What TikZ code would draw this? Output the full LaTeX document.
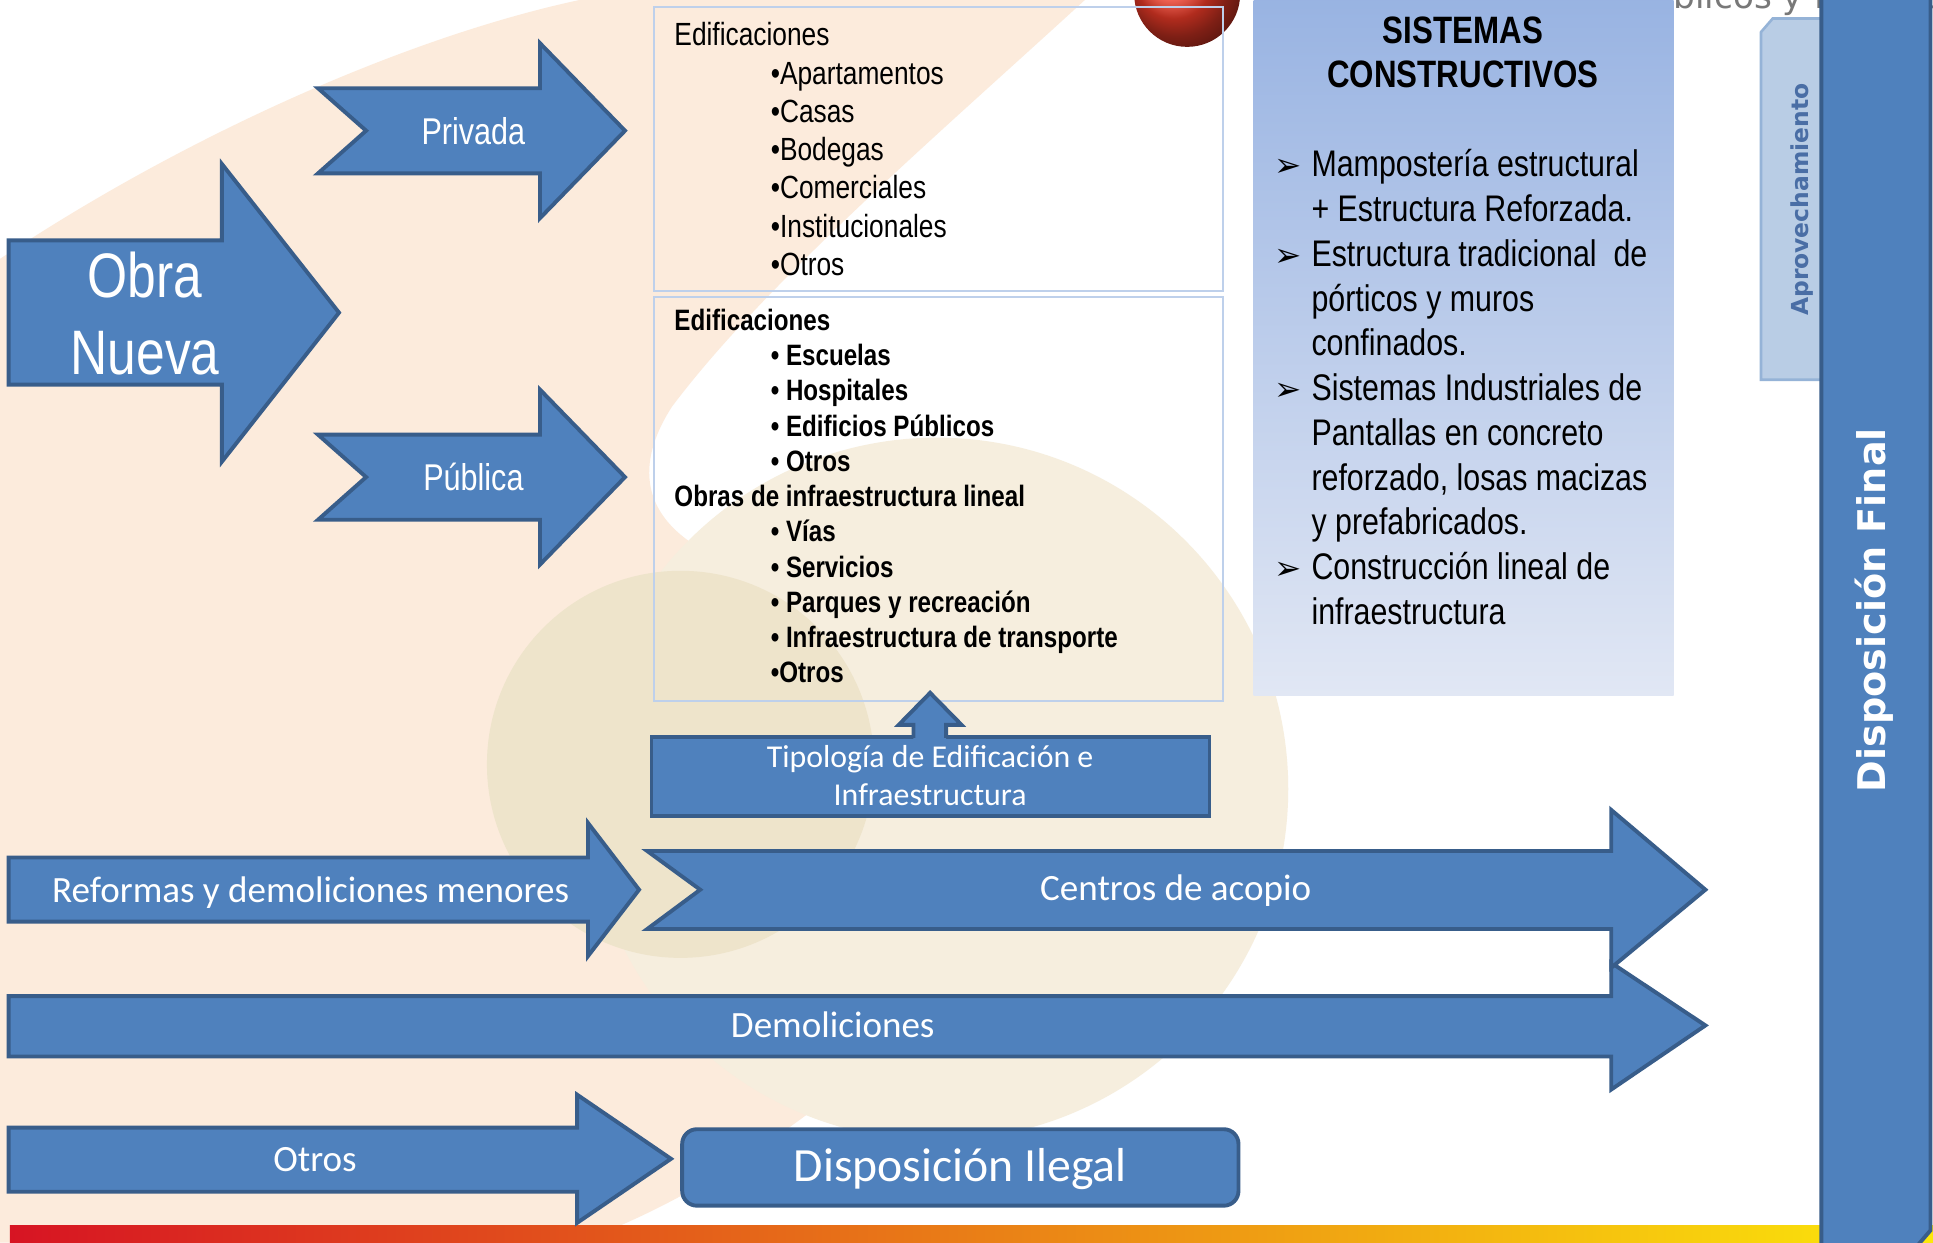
\documentclass[tikz,border=0pt]{standalone}
\usepackage{fontspec}
\setmainfont{Liberation Sans}
\newfontfamily\narrowfont{Liberation Sans}[FakeStretch=0.82]
\newfontfamily\calfont{Carlito}
\newfontfamily\dejafont{DejaVu Sans}
\usepackage{tikz}

\definecolor{arrowfill}{RGB}{79,129,189}
\definecolor{arrowline}{RGB}{56,93,138}
\definecolor{boxline}{RGB}{190,208,235}
\definecolor{peach}{RGB}{252,235,220}
\definecolor{circbeige}{RGB}{246,238,222}
\definecolor{innerbeige}{RGB}{238,228,203}
\definecolor{ballred}{RGB}{252,62,42}
\definecolor{graytext}{RGB}{120,120,120}
\definecolor{systop}{RGB}{152,179,226}
\definecolor{sysmid}{RGB}{183,201,235}
\definecolor{sysbot}{RGB}{225,231,244}
\definecolor{tabfill}{RGB}{185,205,229}
\definecolor{tabline}{RGB}{149,179,215}
\definecolor{tabtext}{RGB}{74,110,165}
\definecolor{stripered}{RGB}{215,20,35}
\definecolor{stripeorange}{RGB}{236,130,20}
\definecolor{stripeyellow}{RGB}{252,232,10}

\begin{document}
\begin{tikzpicture}[x=0.01cm, y=-0.01cm,
    blockarrow/.style={draw=arrowline, fill=arrowfill, line width=0.9pt, line join=miter},
    narrowlabel/.style={text=white, inner sep=0pt, anchor=base,
                        font=\narrowfont\fontsize{8.6pt}{10pt}\selectfont},
    callabel/.style={text=white, inner sep=0pt, anchor=base,
                     font=\calfont\fontsize{8.55pt}{10pt}\selectfont},
    listbox/.style={draw=boxline, line width=0.5pt, inner sep=0pt, anchor=north west},
    privlist/.style={inner sep=0pt, anchor=base west, font=\narrowfont\fontsize{7.4pt}{9pt}\selectfont},
    publist/.style={inner sep=0pt, anchor=base west, font=\narrowfont\bfseries\fontsize{6.8pt}{8pt}\selectfont},
    systitle/.style={inner sep=0pt, anchor=base, font=\narrowfont\bfseries\fontsize{8.8pt}{10pt}\selectfont},
    syslist/.style={inner sep=0pt, anchor=base west, font=\narrowfont\fontsize{8.54pt}{10pt}\selectfont},
    sysbullet/.style={inner sep=0pt, anchor=base west, font=\dejafont\fontsize{7.5pt}{9pt}\selectfont}]

    % fondo
    \useasboundingbox[fill=white] (0,0) rectangle (1568,1008);
    \fill[peach] (0,210) .. controls (150,110) and (330,30) .. (470,0) -- (880,0)
        .. controls (760,110) and (620,230) .. (545,330)
        .. controls (500,400) and (540,450) .. (640,470) -- (660,900)
        .. controls (560,975) and (500,995) .. (470,1008) -- (0,1008) -- cycle;
    \fill[circbeige] (760,640) circle (285);
    \fill[innerbeige] (552,620) circle (157);
    \shade[ball color=ballred] (963,-5) circle (43);
    \node[anchor=base west, inner sep=0pt, text=graytext,
          font=\dejafont\fontsize{7.9pt}{9pt}\selectfont] (cortado) at (1323,7) {Públicos y Privados};

    % cajas de tipologias
    \node[listbox, minimum width=4.613cm, minimum height=2.305cm] (privbox) at (529.7,4.5) {};
    \node[listbox, minimum width=4.613cm, minimum height=3.274cm] (pubbox) at (529.7,240) {};
    \node[privlist] (privhead) at (546.4,37.2) {Edificaciones};
    \foreach \txt [count=\i] in {Apartamentos,Casas,Bodegas,Comerciales,Institucionales,Otros}
        \node[privlist] (priv\i) at (624.6,{37.2+31.05*\i}) {•\txt};
    \foreach \xx/\txt [count=\i from 0] in {546.4/Edificaciones, 624.6/• Escuelas, 624.6/• Hospitales,
            624.6/• Edificios Públicos, 624.6/• Otros, 546.4/Obras de infraestructura lineal,
            624.6/• Vías, 624.6/• Servicios, 624.6/• Parques y recreación,
            624.6/• Infraestructura de transporte, 624.6/•Otros}
        \node[publist] (pub\i) at (\xx,{268+28.6*\i}) {\txt};

    % sistemas constructivos
    \shade[top color=systop, middle color=sysmid, bottom color=sysbot] (1017,-5) rectangle (1357.5,564);
    \node[systitle] (sys1) at (1186.7,35.4) {SISTEMAS};
    \node[systitle] (sys2) at (1186.7,70.8) {CONSTRUCTIVOS};
    \foreach \txt [count=\i from 0] in {Mampostería estructural, + Estructura Reforzada.,
            Estructura tradicional\ \ de, pórticos y muros, confinados., Sistemas Industriales de,
            Pantallas en concreto, {reforzado, losas macizas}, y prefabricados.,
            Construcción lineal de, infraestructura}
        \node[syslist] (sysl\i) at (1063.2,{143.4+36.3*\i}) {\txt};
    \foreach \i in {0,2,5,9}
        \node[sysbullet] (bul\i) at (1033,{143.4+36.3*\i}) {➢};

    % franja inferior, pestana y barra final
    \shade[left color=stripered, middle color=stripeorange, right color=stripeyellow]
        (8,994) rectangle (1568,1012);
    \draw[fill=tabfill, draw=tabline, line width=0.6pt]
        (1428.5,308) -- (1428.5,26) -- (1438,15) -- (1482,15) -- (1482,308) -- cycle;
    \node[rotate=90, text=tabtext, inner sep=0pt,
          font=\dejafont\bfseries\fontsize{5.4pt}{6pt}\selectfont] (aprov) at (1462,162) {Aprovechamiento};
    \draw[blockarrow] (1477.5,-10) -- (1566,-10) -- (1566,998) -- (1554,1012) -- (1477.5,1012) -- cycle;
    \node[rotate=90, text=white, inner sep=0pt,
          font=\dejafont\bfseries\fontsize{8.8pt}{10pt}\selectfont] (final) at (1520,495) {Disposición Final};

    % obra nueva
    \draw[blockarrow] (7,195) -- (180,195) -- (180,133) -- (275,253.6) -- (180,374.5) -- (180,312)
        -- (7,312) -- cycle;
    \node[narrowlabel, font=\narrowfont\fontsize{14.5pt}{17pt}\selectfont] (obra) at (117.7,241.5) {Obra};
    \node[narrowlabel, font=\narrowfont\fontsize{14.5pt}{17pt}\selectfont] (nueva) at (117.7,303.4) {Nueva};
    \foreach \dy in {0,281}
        \draw[blockarrow, shift={(0,\dy)}] (258,71.6) -- (438,71.6) -- (438,35) -- (507,106)
            -- (438,177) -- (438,140.6) -- (258,140.6) -- (297,106) -- cycle;
    \node[narrowlabel] (privada) at (384,116.8) {Privada};
    \node[narrowlabel] (publica) at (384,397.8) {Pública};

    % tipologia
    \node[blockarrow, rectangle, inner sep=0pt, minimum width=4.524cm, minimum height=0.644cm]
        (tipo) at (754.8,629.8) {};
    \fill[arrowfill] (741,601) -- (741,588) -- (729,588) -- (754.5,562) -- (780,588) -- (767.5,588)
        -- (767.5,601) -- cycle;
    \draw[arrowline, line width=0.9pt, line join=miter] (741,598.5) -- (741,588) -- (729,588)
        -- (754.5,562) -- (780,588) -- (767.5,588) -- (767.5,598.5);
    \node[callabel, font=\calfont\fontsize{7.34pt}{9pt}\selectfont] (tipo1) at (754.5,622.4) {Tipología de Edificación e};
    \node[callabel, font=\calfont\fontsize{7.34pt}{9pt}\selectfont] (tipo2) at (754.5,653) {Infraestructura};

    % flujos inferiores
    \draw[blockarrow] (7,695.6) -- (477,695.6) -- (477,667.6) -- (518.4,721.7) -- (477,775.5)
        -- (477,747.6) -- (7,747.6) -- cycle;
    \draw[blockarrow] (7,808) -- (1307,808) -- (1307,781) -- (1383.4,831.8) -- (1307,883.8)
        -- (1307,857) -- (7,857) -- cycle;
    \draw[blockarrow] (525,690.3) -- (1307,690.3) -- (1307,657) -- (1383.4,721.7) -- (1307,785)
        -- (1307,753.6) -- (525,753.6) -- (568,721.7) -- cycle;
    \draw[blockarrow] (7,914.7) -- (468.2,914.7) -- (468.2,888) -- (544.3,940) -- (468.2,991.9)
        -- (468.2,966.7) -- (7,966.7) -- cycle;
    \node[blockarrow, rectangle, rounded corners=3.4pt, inner sep=0pt, minimum width=4.51cm,
          minimum height=0.62cm] (ilegal) at (779,947) {};
    \node[callabel] (reformas) at (252,732.2) {Reformas y demoliciones menores};
    \node[callabel] (acopio) at (953.7,730.7) {Centros de acopio};
    \node[callabel] (demol) at (675.5,841.7) {Demoliciones};
    \node[callabel] (otros) at (255.5,950.4) {Otros};
    \node[callabel, font=\calfont\fontsize{11pt}{13pt}\selectfont] (ilegaltxt) at (779,958.2) {Disposición Ilegal};
\end{tikzpicture}
\end{document}
